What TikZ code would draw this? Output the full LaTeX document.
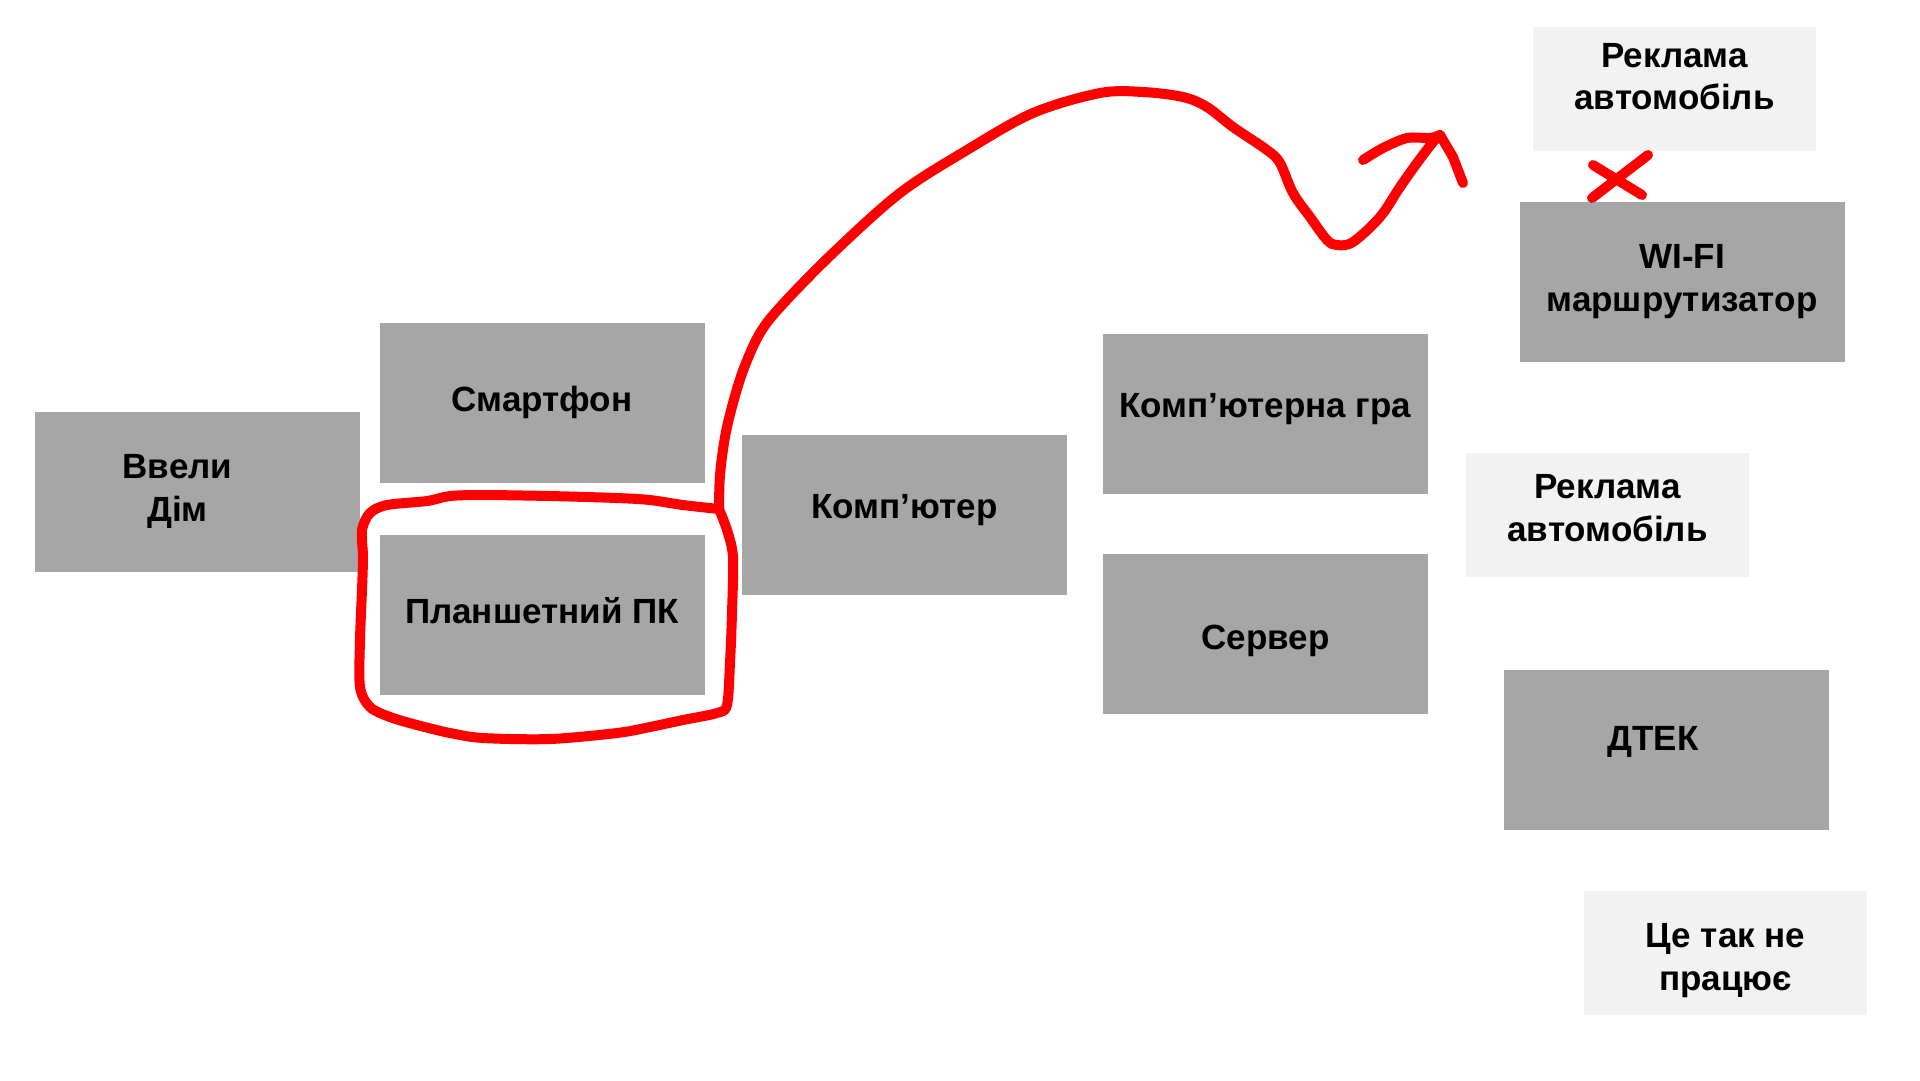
\documentclass[tikz,border=0pt]{standalone}
\usepackage{fontspec}
\setmainfont{Liberation Sans}
\usetikzlibrary{positioning}
\definecolor{boxgrey}{HTML}{A6A6A6}
\definecolor{notegrey}{HTML}{F2F2F2}
\definecolor{marker}{HTML}{FF0000}

\begin{document}
\begin{tikzpicture}[x=0.1mm, y=-0.1mm,
      box/.style={fill=boxgrey, minimum width=32.5mm, minimum height=16mm, inner sep=0pt, align=center,
                  font=\fontsize{9.96}{12.2}\selectfont\bfseries},
      note/.style={box, fill=notegrey, minimum width=28.3mm, minimum height=12.4mm},
      pen/.style={draw=marker, line width=1mm, line cap=round, line join=round}]
    \useasboundingbox (0,0) rectangle (1920,1080);
    % grey blocks
    \node[box] (home) at (197.5,491.5) {Ввели\hspace*{4mm}\\Дім\hspace*{4mm}};
    \node[box] (phone) at (542,402.5) {Смартфон};
    \node[box, below=5.1mm of phone, text depth=0.8mm] (tablet) {Планшетний ПК};
    \node[box, text depth=1.74mm] (pc) at (904.5,515) {Комп’ютер};
    \node[box, text depth=1.74mm] (game) at (1265.5,414) {Комп’ютерна гра};
    \node[box, below=5.9mm of game, text height=3.8mm] (server) {Сервер};
    \node[box] (wifi) at (1682,282) {WI-FI\\маршрутизатор};
    \node[box, text depth=2.3mm] (dtek) at (1666.5,749.5) {ДТЕК\hspace*{2.7mm}};
    % light notes
    \node[note, text depth=2.4mm] (adtop) at (1674.5,88.5) {Реклама\\автомобіль};
    \node[note, text depth=1.4mm] (admid) at (1607.5,515) {Реклама\\автомобіль};
    \node[note, text height=8.2mm] (nowork) at (1725.5,953) {Це так не\\працює};
    % red marker
    \coordinate (join) at (719,509);
    \coordinate (tip) at (1440,135);
    \draw[pen] plot[smooth, tension=0.5] coordinates {(join) (683,505) (650,500) (617,498) (550,496) (483,495)
      (450,496) (427,501) (387,505) (370,513) (362,530) (363,557) (362,590) (360,640) (360,687) (370,707)
      (390,717) (417,725) (450,733) (483,738) (550,739) (617,733) (650,727) (683,720) (717,713) (727,705)
      (730,663) (732,613) (733,557) (727,530) (join)};
    \draw[pen] plot[smooth, tension=0.55] coordinates {(join) (720,475) (725,437) (733,403) (744,368)
      (760,333) (782,305) (833,253) (900,193) (967,150) (1033,113)
      (1100,93) (1143,92) (1183,97) (1207,107) (1233,127) (1267,150) (1280,163) (1293,193)
      (1310,217) (1327,240) (1337,245) (1353,242) (1380,217) (1400,187) (1417,163) (1433,142) (tip)};
    \draw[pen] plot[smooth, tension=0.5] coordinates {(1363,160) (1383,148) (1407,138) (1430,138) (tip)};
    \draw[pen] (tip) -- (1453,157) -- (1463,183);
    \draw[pen] (1592,198) -- (1648,155);
    \draw[pen] (1593,165) -- (1642,195);
  \end{tikzpicture}
\end{document}
